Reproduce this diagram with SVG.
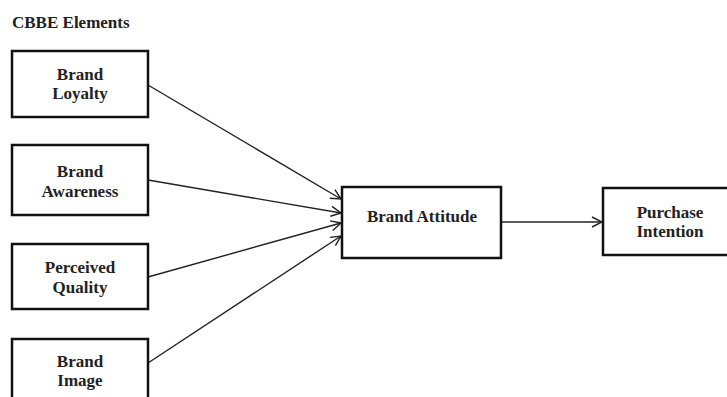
<svg xmlns="http://www.w3.org/2000/svg" width="727" height="397" viewBox="0 0 727 397">
<style>
.box{fill:#fff;stroke:#111;stroke-width:2.5}
.t{font-family:"Liberation Serif","Times New Roman",serif;font-weight:bold;font-size:17px;fill:#222;text-anchor:middle}
.title{font-family:"Liberation Serif","Times New Roman",serif;font-weight:bold;font-size:17px;fill:#222}
.c{stroke:#222;stroke-width:1.4;fill:none;marker-end:url(#ah)}
</style>
<defs>
<marker id="ah" viewBox="0 0 12 12" refX="11" refY="6" markerWidth="12" markerHeight="12" markerUnits="userSpaceOnUse" orient="auto">
<path d="M1,1 L11,6 L1,11" fill="none" stroke="#222" stroke-width="1.4"/>
</marker>
</defs>
<rect width="727" height="397" fill="#fff"/>
<text class="title" x="12" y="28">CBBE Elements</text>
<g id="connectors">
<line class="c" x1="148" y1="85" x2="341" y2="199"/>
<line class="c" x1="148" y1="180" x2="341" y2="213"/>
<line class="c" x1="148" y1="277" x2="341" y2="223"/>
<line class="c" x1="148" y1="363" x2="341" y2="236"/>
<line class="c" x1="501" y1="222" x2="602" y2="222"/>
</g>
<g id="brand-loyalty">
<rect class="box" x="12" y="51" width="136" height="66"/>
<text class="t" x="80" y="80">Brand</text>
<text class="t" x="80" y="99">Loyalty</text>
</g>
<g id="brand-awareness">
<rect class="box" x="12" y="145" width="136" height="70"/>
<text class="t" x="80" y="177">Brand</text>
<text class="t" x="80" y="197">Awareness</text>
</g>
<g id="perceived-quality">
<rect class="box" x="12" y="244" width="136" height="65"/>
<text class="t" x="80" y="273">Perceived</text>
<text class="t" x="80" y="293">Quality</text>
</g>
<g id="brand-image">
<rect class="box" x="12" y="339" width="136" height="80"/>
<text class="t" x="80" y="367">Brand</text>
<text class="t" x="80" y="386">Image</text>
</g>
<g id="brand-attitude">
<rect class="box" x="342" y="187" width="159" height="71"/>
<text class="t" x="422" y="222">Brand Attitude</text>
</g>
<g id="purchase-intention">
<rect class="box" x="603" y="188" width="140" height="67"/>
<text class="t" x="670" y="218">Purchase</text>
<text class="t" x="670" y="237">Intention</text>
</g>
</svg>
